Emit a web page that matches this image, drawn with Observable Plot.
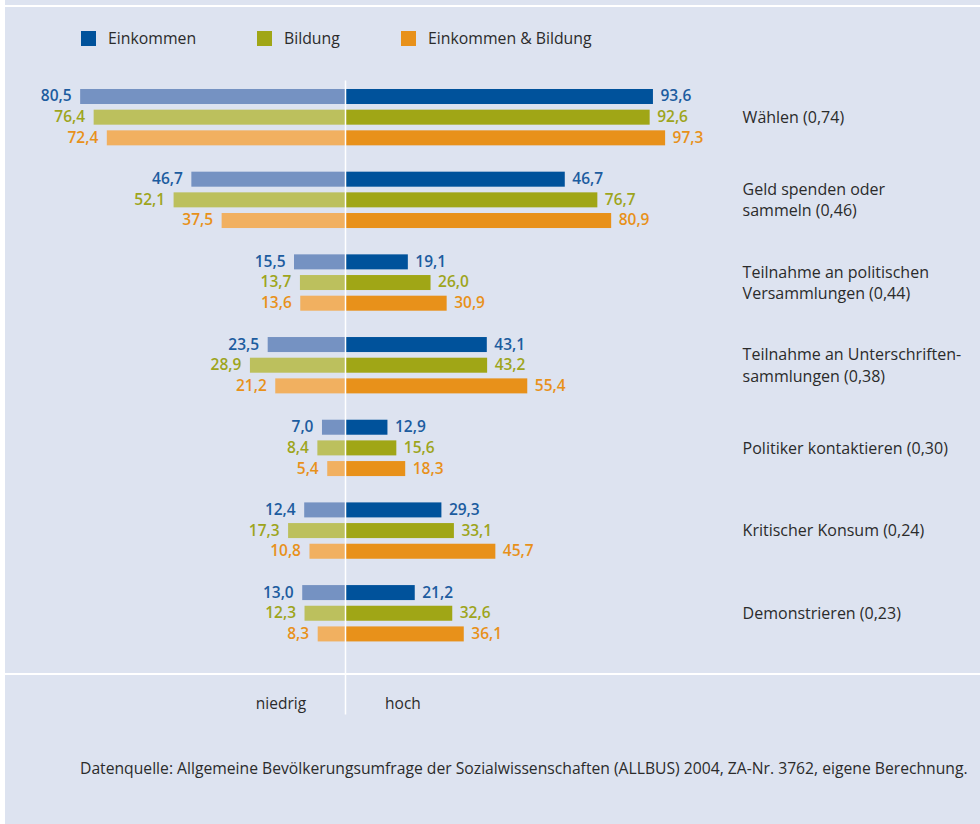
<!DOCTYPE html>
<html>
<head>
<meta charset="utf-8">
<script src="https://cdn.jsdelivr.net/npm/d3@7"></script>
<script src="https://cdn.jsdelivr.net/npm/@observablehq/plot@0.6"></script>
<style>
  html, body { margin: 0; padding: 0; background: #ffffff; }
  #wrap { position: relative; width: 980px; height: 824px; background: #dde3f0; overflow: hidden; font-family: "Open Sans", sans-serif; }
  #wrap svg { position: absolute; left: 0; top: 0; background: transparent; }
  .strip { position: absolute; background: #ffffff; }
  .legend-item { position: absolute; top: 27px; height: 22px; display: flex; align-items: center; font-size: 15.8px; color: #2b2b2b; }
  .legend-item span.sw { display: inline-block; width: 15px; height: 15px; margin-right: 12px; }
  .side { position: absolute; top: 692px; font-size: 15.5px; color: #2b2b2b; transform: translateX(-50%); }
  #caption { position: absolute; left: 80px; top: 757px; font-size: 15.7px; color: #2b2b2b; white-space: nowrap; }
</style>
</head>
<body>
<div id="wrap">
  <div class="strip" style="left:0;top:0;width:5px;height:824px;"></div>
  <div class="strip" style="left:5px;top:5px;width:975px;height:2px;"></div>
  <div class="strip" style="left:5px;top:673px;width:975px;height:2px;"></div>
  <div id="legend"></div>
  <div class="side" style="left:281px;">niedrig</div>
  <div class="side" style="left:403px;">hoch</div>
  <div id="caption">Datenquelle: Allgemeine Bevölkerungsumfrage der Sozialwissenschaften (ALLBUS) 2004, ZA-Nr. 3762, eigene Berechnung.</div>
</div>
<script>
// ---- data ----
const categories = [
  "Wählen (0,74)",
  "Geld spenden oder\nsammeln (0,46)",
  "Teilnahme an politischen\nVersammlungen (0,44)",
  "Teilnahme an Unterschriften-\nsammlungen (0,38)",
  "Politiker kontaktieren (0,30)",
  "Kritischer Konsum (0,24)",
  "Demonstrieren (0,23)"
];
const series = ["Einkommen", "Bildung", "Einkommen & Bildung"];

// "niedrig" (left) values
const einkommenNiedrig = [80.5, 46.7, 15.5, 23.5, 7.0, 12.4, 13.0];
const bildungNiedrig   = [76.4, 52.1, 13.7, 28.9, 8.4, 17.3, 12.3];
const beidesNiedrig    = [72.4, 37.5, 13.6, 21.2, 5.4, 10.8, 8.3];
// "hoch" (right) values
const einkommenHoch = [93.6, 46.7, 19.1, 43.1, 12.9, 29.3, 21.2];
const bildungHoch   = [92.6, 76.7, 26.0, 43.2, 15.6, 33.1, 32.6];
const beidesHoch    = [97.3, 80.9, 30.9, 55.4, 18.3, 45.7, 36.1];
// bar lengths as drawn in the reference where they differ from the printed label
const einkommenHochDrawn = [93.6, 66.8, 19.1, 43.1, 12.9, 29.3, 21.2];

const darkColors  = ["#00529b", "#a0a616", "#e8911a"];
const lightColors = ["#7592c2", "#bcc05d", "#f1b060"];
const labelColors = ["#1c5c9f", "#9ea51c", "#e8911a"];

// ---- build table ----
const niedrig = [einkommenNiedrig, bildungNiedrig, beidesNiedrig];
const hoch = [einkommenHoch, bildungHoch, beidesHoch];
const hochDrawn = [einkommenHochDrawn, bildungHoch, beidesHoch];
const fmt = v => v.toFixed(1).replace(".", ",");
const rows = [];
categories.forEach((c, g) => {
  series.forEach((s, r) => {
    rows.push({
      cat: c, series: s, si: r, row: g * 4 + r,
      low: niedrig[r][g], high: hoch[r][g], highBar: hochDrawn[r][g]
    });
  });
});
const catRows = categories.map((c, g) => ({cat: c, row: g * 4 + 1}));

const half = 0.363;
const plot = Plot.plot({
  width: 980,
  height: 824,
  margin: 0,
  x: {domain: [-345 / 3.29, 635 / 3.29], range: [0, 980], axis: null},
  y: {domain: [-96.5 / 20.67, (824 - 96.5) / 20.67], range: [0, 824], axis: null},
  style: {background: "transparent", overflow: "visible"},
  marks: [
    Plot.rect(rows, {
      x1: d => -d.low, x2: 0,
      y1: d => d.row - half, y2: d => d.row + half,
      fill: d => lightColors[d.si]
    }),
    Plot.rect(rows, {
      x1: 0, x2: d => d.highBar,
      y1: d => d.row - half, y2: d => d.row + half,
      fill: d => darkColors[d.si]
    }),
    Plot.ruleX([0], {y1: -0.78, y2: 29.9, stroke: "#ffffff", strokeWidth: 1.5}),
    Plot.text(rows, {
      x: d => -d.low, y: "row", text: d => fmt(d.low),
      textAnchor: "end", dx: -9, dy: -0.5, fill: d => labelColors[d.si],
      fontSize: 15.5, fontWeight: 600, fontFamily: "Open Sans"
    }),
    Plot.text(rows, {
      x: "highBar", y: "row", text: d => fmt(d.high),
      textAnchor: "start", dx: 7, dy: -0.5, fill: d => labelColors[d.si],
      fontSize: 15.5, fontWeight: 600, fontFamily: "Open Sans"
    }),
    Plot.text(catRows, {
      x: 120.7, y: "row", text: "cat", dy: -1.5,
      textAnchor: "start", lineAnchor: "middle", lineHeight: 1.32,
      fill: "#2b2b2b", fontSize: 16, fontFamily: "Open Sans"
    })
  ]
});
document.getElementById("wrap").appendChild(plot);

// legend
const legendX = [81, 257, 401];
const legend = document.getElementById("legend");
series.forEach((s, i) => {
  const el = document.createElement("div");
  el.className = "legend-item";
  el.style.left = legendX[i] + "px";
  el.innerHTML = `<span class="sw" style="background:${darkColors[i]}"></span>${s}`;
  legend.appendChild(el);
});
</script>
</body>
</html>
